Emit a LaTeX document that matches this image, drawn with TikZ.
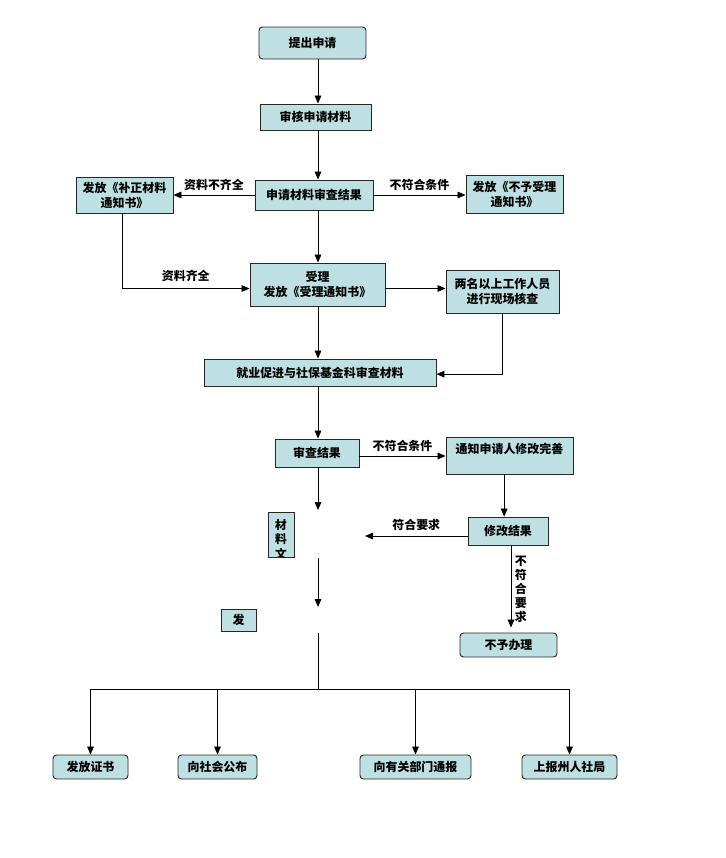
\documentclass[tikz,border=0pt]{standalone}
\usepackage{fontspec}
\setmainfont{Noto Sans CJK SC}
\usetikzlibrary{arrows.meta}
\definecolor{boxfill}{RGB}{190,224,227}
\tikzset{
        box/.style={draw=black!85, line width=0.8pt, fill=boxfill, inner sep=0pt, align=center, font=\fontsize{10.2pt}{12.8pt}\selectfont\bfseries},
        rbox/.style={box, rounded corners=3pt},
        lbl/.style={inner sep=1pt, font=\fontsize{10.2pt}{12pt}\selectfont\bfseries},
        vlbl/.style={lbl, align=center, font=\fontsize{10.2pt}{11.9pt}\selectfont\bfseries},
        arr/.style={line width=0.7pt, -{Triangle[length=2.4mm, width=2mm]}},
        link/.style={line width=0.7pt}
          }
\begin{document}
\begin{tikzpicture}[x=0.03cm, y=-0.03cm]
        \useasboundingbox (0,0) rectangle (726,858);
        \coordinate (sp) at (318,0);
        \node[rbox, minimum width=3.21cm, minimum height=0.96cm] (ask) at (312.5,43) {提出申请};
        \node[box, minimum width=3.33cm, minimum height=0.78cm] (check) at (315.5,117) {审核申请材料};
        \node[box, minimum width=3.54cm, minimum height=0.9cm] (res1) at (314,195) {申请材料审查结果};
        \node[box, minimum width=2.91cm, minimum height=1.08cm] (supp) at (124.5,195) {发放《补正材料\\通知书》};
        \node[box, minimum width=2.91cm, minimum height=1.14cm] (rej) at (514.5,194) {发放《不予受理\\通知书》};
        \node[box, minimum width=4.05cm, minimum height=1.29cm] (acc) at (317.5,284.5) {受理\\发放《受理通知书》};
        \node[box, minimum width=3.39cm, minimum height=1.29cm] (visit) at (502.5,291.5) {两名以上工作人员\\进行现场核查};
        \node[box, minimum width=6.96cm, minimum height=0.81cm] (rev) at (320,372.5) {就业促进与社保基金科审查材料};
        \node[box, minimum width=2.52cm, minimum height=0.84cm] (res2) at (317,453) {审查结果};
        \node[box, minimum width=3.81cm, minimum height=1.11cm, inner ysep=0.1cm, text height=0.38cm, text depth=0.53cm] (notify) at (509.5,455.5) {通知申请人修改完善};
        \node[box, minimum width=0.78cm, minimum height=1.35cm,
          path picture={\node[draw=none, fill=none, anchor=north, inner sep=0pt, align=center, font=\fontsize{10pt}{12.6pt}\selectfont\bfseries]
            at ([yshift=-0.13cm]path picture bounding box.north) {材\\料\\文};}] (mat) at (281,534.5) {};
        \node[box, minimum width=2.4cm, minimum height=0.84cm] (mod) at (508,531) {修改结果};
        \node[box, minimum width=1.05cm, minimum height=0.66cm] (fa) at (238.5,620) {发};
        \node[rbox, minimum width=2.91cm, minimum height=0.72cm] (no) at (508.5,645) {不予办理};
        \node[rbox, minimum width=2.25cm, minimum height=0.72cm] (cert) at (90.5,767) {发放证书};
        \node[rbox, minimum width=2.37cm, minimum height=0.72cm] (pub) at (217.5,767) {向社会公布};
        \node[rbox, minimum width=3.33cm, minimum height=0.72cm] (dept) at (415.5,767) {向有关部门通报};
        \node[rbox, minimum width=2.85cm, minimum height=0.72cm] (prov) at (569.5,767) {上报州人社局};
        \coordinate (p1) at (318,510);
        \coordinate (p2) at (318,558);
        \coordinate (p3) at (318,607);
        \coordinate (p4) at (318,633);
        \coordinate (p5) at (318,689);
        \coordinate (q) at (365,536);
        \draw[arr] (ask.south -| sp) -- (check.north -| sp);
        \draw[arr] (check.south -| sp) -- (res1.north -| sp);
        \draw[arr] (res1.west) -- (supp.east) node[lbl, midway, above=2pt] {资料不齐全};
        \draw[arr] (res1.east) -- (res1.east -| rej.west) node[lbl, midway, above=2pt] {不符合条件};
        \draw[arr] (res1.south -| sp) -- (acc.north -| sp);
        \draw[arr] ([xshift=-0.075cm]supp.south) |- ([yshift=-0.12cm]acc.west) node[lbl, pos=0.75, above=0.15cm] {资料齐全};
        \draw[arr] ([yshift=-0.12cm]acc.east) -- ([yshift=-0.12cm]acc.east -| visit.west);
        \draw[arr] (acc.south -| sp) -- (rev.north -| sp);
        \draw[arr] (visit.south) |- ([yshift=-0.05cm]rev.east);
        \draw[arr] (rev.south -| sp) -- (res2.north -| sp);
        \draw[arr] ([yshift=-0.09cm]res2.east) -- ([yshift=-0.09cm]res2.east -| notify.west) node[lbl, midway, above=2pt] {不符合条件};
        \draw[arr] (res2.south -| sp) -- (p1);
        \draw[arr] ([xshift=-0.16cm]notify.south) -- ([xshift=-0.16cm]notify.south |- mod.north);
        \draw[arr] ([yshift=-0.15cm]mod.west) -- (q) node[lbl, midway, above=3pt] {符合要求};
        \draw[arr, shorten >=0.15cm] ([xshift=0.09cm]mod.south) -- ([xshift=0.09cm]mod.south |- no.north) node[vlbl, midway, right=2pt] {不\\符\\合\\要\\求};
        \draw[arr] (p2) -- (p3);
        \draw[link] (p4) -- (p5);
        \draw[link] (cert.north |- p5) -- (prov.north |- p5);
        \foreach \n in {cert, pub, dept, prov}
          \draw[arr] (\n.north |- p5) -- (\n.north);
      \end{tikzpicture}
\end{document}
